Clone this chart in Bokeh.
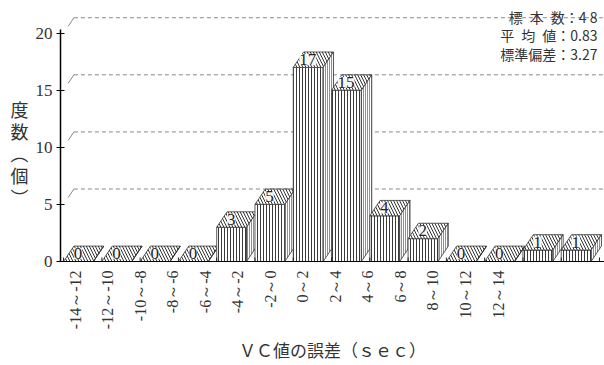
from math import pi
from bokeh.plotting import figure
from bokeh.models import ColumnDataSource, Label, LabelSet, FixedTicker, Range1d
from bokeh.core.properties import value
from bokeh.embed import file_html
from bokeh.resources import INLINE

# ---- data ----
categories = ["-14～-12", "-12～-10", "-10～-8", "-8～-6", "-6～-4", "-4～-2", "-2～0",
              "0～2", "2～4", "4～6", "6～8", "8～10", "10～12", "12～14"]
counts = [0, 0, 0, 0, 3, 5, 17, 15, 4, 2, 0, 0, 1, 1]
y_ticks = [0, 5, 10, 15, 20]
stats_lines = ["標\u2002本\u2002数：4 8", "平\u2002均\u2002値：0.83", "標準偏差：3.27"]
x_title = "ＶＣ値の誤差（ｓｅｃ）"
y_title_chars = ["度", "数", "︵", "個", "︶"]

# ---- 3D geometry (style) ----
W = 0.78      # front face width (bins)
DX = 0.27     # depth offset x (bins)
DY = 1.35     # depth offset y (count units)
SERIF = "Liberation Serif"
CJK = "Noto Sans CJK JP"

p = figure(width=604, height=365, output_backend="svg", toolbar_location=None,
           x_range=Range1d(-0.08, 14.13), y_range=Range1d(0, 22.86),
           min_border_left=60, min_border_right=0, min_border_top=0,
           min_border_bottom=101)
p.outline_line_color = None
p.xgrid.visible = False
p.ygrid.visible = False

# back-wall dashed gridlines
gv = [v for v in y_ticks if v > 0]
p.segment(x0=[0.12] * len(gv), y0=[v + 0.6 for v in gv],
          x1=[DX] * len(gv), y1=[v + DY for v in gv],
          line_color="#888", line_width=1)
p.segment(x0=[DX] * len(gv), y0=[v + DY for v in gv],
          x1=[14.2] * len(gv), y1=[v + DY for v in gv],
          line_color="#888", line_width=1, line_dash="4 3")

# bars as faces, ordered per bar: front, top, side
xs, ys, hp, hs, hc = [], [], [], [], []
for i, h in enumerate(counts):
    xs.append([i, i + W, i + W, i]); ys.append([0, 0, h, h])
    hp.append("|"); hs.append(3); hc.append("#3a3a3a")
    xs.append([i, i + W, i + W + DX, i + DX]); ys.append([h, h, h + DY, h + DY])
    hp.append("\\"); hs.append(6); hc.append("#333")
    xs.append([i + W, i + W + DX, i + W + DX, i + W]); ys.append([0, DY, h + DY, h])
    hp.append("|"); hs.append(2); hc.append("#222")
src = ColumnDataSource(dict(xs=xs, ys=ys, hp=hp, hs=hs, hc=hc))
p.patches("xs", "ys", source=src, fill_color="white", line_color="#333",
          line_width=0.8, hatch_pattern="hp", hatch_scale="hs",
          hatch_color="hc", hatch_weight=1)

# boundary "+" ticks on x axis
nb = len(counts) + 1
p.segment(x0=list(range(nb)), y0=[-0.35] * nb, x1=list(range(nb)), y1=[0.35] * nb,
          line_color="#222", line_width=1)

# value labels
lsrc = ColumnDataSource(dict(x=[i + 0.38 for i in range(len(counts))],
                             y=[h + 0.7 for h in counts],
                             t=[str(h) for h in counts]))
p.add_layout(LabelSet(x="x", y="y", text="t", source=lsrc,
                      text_font=value(SERIF), text_font_size="17px",
                      text_color="#222", text_align="center",
                      text_baseline="middle", background_fill_color="white",
                      background_fill_alpha=0.9))

# axes
ya = p.yaxis[0]
ya.ticker = FixedTicker(ticks=y_ticks)
ya.bounds = (0, 20.3)
ya.major_tick_in = 4
ya.major_tick_out = 4
ya.minor_tick_line_color = None
ya.axis_line_width = 1.5
ya.major_label_text_font = SERIF
ya.major_label_text_font_size = "17px"
ya.major_label_text_color = "#333"
ya.major_label_standoff = 4

# y title: upright stacked characters
ya.axis_label = "\n\n" + "\n".join(y_title_chars)
ya.axis_label_text_font = CJK
ya.axis_label_text_font_style = "normal"
ya.axis_label_text_font_size = "18px"
ya.axis_label_text_color = "#333"
ya.axis_label_text_line_height = 0.84
ya.axis_label_standoff = 4
if "axis_label_orientation" in ya.properties():
    ya.axis_label_orientation = "horizontal"

xa = p.xaxis[0]
label_pos = [0.3 + 0.85 * k for k in range(len(categories))]
xa.ticker = FixedTicker(ticks=label_pos)
xa.major_label_overrides = {pos: c for pos, c in zip(label_pos, categories)}
xa.major_tick_line_color = None
xa.major_tick_in = 0
xa.major_tick_out = 0
xa.minor_tick_line_color = None
xa.major_label_orientation = pi / 2
xa.major_label_standoff = 9
xa.major_label_text_font = SERIF
xa.major_label_text_font_size = "16px"
xa.major_label_text_color = "#333"
xa.axis_label = x_title
xa.axis_label_text_font = CJK
xa.axis_label_text_font_style = "normal"
xa.axis_label_text_font_size = "17px"
xa.axis_label_text_color = "#333"
xa.axis_label_standoff = 5

# statistics box
for k, line in enumerate(stats_lines):
    p.add_layout(Label(x=537, y=245 - 18.5 * k, x_units="screen", y_units="screen",
                       text=line, text_font=CJK, text_font_size="14px",
                       text_color="#333", text_align="right",
                       text_baseline="middle"))

open("out.html", "w").write(file_html(p, INLINE))
